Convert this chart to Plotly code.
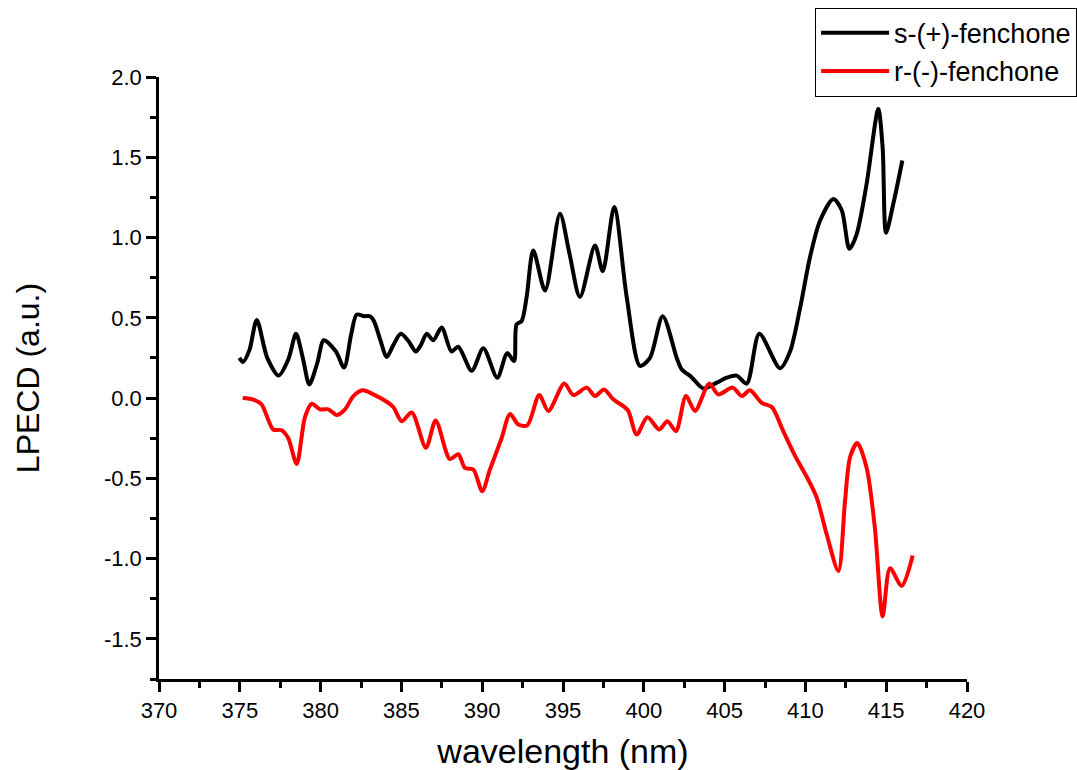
import plotly.graph_objects as go

# s-(+)-fenchone (black)
s_x = [374.97, 375.2, 375.6, 376.05, 376.7, 377.4, 378.0, 378.48, 378.9, 379.3, 379.8, 380.2, 380.95, 381.45,
       381.9, 382.23, 382.7, 383.06, 383.3, 383.7, 384.09, 384.5, 384.96, 385.4, 385.9, 386.2, 386.57, 386.97,
       387.49, 388.1, 388.52, 389.35, 390.07, 390.93, 391.55, 391.97, 392.13, 392.44, 392.75, 393.16, 393.89,
       394.81, 395.4, 396.05, 396.98, 397.46, 398.17, 398.94, 399.77, 400.38, 401.17, 402.04, 402.34, 402.96,
       403.68, 404.51, 405.13, 405.75, 406.37, 407.15, 408.43, 409.05, 409.67, 410.29, 410.91, 411.73, 412.25,
       412.72, 413.17, 413.79, 414.51, 414.78, 414.99, 415.44, 416.0]
s_y = [0.25, 0.225, 0.30, 0.486, 0.25, 0.14, 0.24, 0.40, 0.25, 0.085, 0.22, 0.36, 0.29, 0.19,
       0.40, 0.52, 0.51, 0.51, 0.48, 0.36, 0.256, 0.33, 0.40, 0.36, 0.29, 0.33, 0.40, 0.36,
       0.44, 0.29, 0.32, 0.17, 0.31, 0.127, 0.28, 0.23, 0.46, 0.48, 0.63, 0.92, 0.67,
       1.148, 0.90, 0.63, 0.95, 0.79, 1.19, 0.63, 0.20, 0.25, 0.51, 0.25, 0.18, 0.13,
       0.06, 0.096, 0.127, 0.14, 0.09, 0.40, 0.186, 0.29, 0.56, 0.88, 1.106, 1.24, 1.17,
       0.93, 1.02, 1.335, 1.80, 1.56, 1.03, 1.21, 1.48]

# r-(-)-fenchone (red)
r_x = [375.18, 375.84, 376.35, 377.07, 377.59, 378.0, 378.52, 379.03, 379.45, 379.96, 380.48, 381.0, 381.51,
       382.03, 382.6, 383.26, 384.09, 384.5, 385.02, 385.64, 386.52, 387.12, 388.0, 388.52, 388.93, 389.45,
       390.0, 390.48, 391.2, 391.72, 392.24, 392.79, 393.53, 394.09, 395.08, 395.64, 396.47, 396.98, 397.54,
       398.11, 398.73, 399.04, 399.56, 400.22, 400.96, 401.46, 401.99, 402.61, 403.17, 404.05, 404.61, 405.5,
       406.06, 406.57, 407.3, 407.92, 408.63, 409.36, 410.08, 410.7, 411.32, 412.04, 412.45, 412.76, 413.21,
       413.79, 414.3, 414.78, 415.24, 415.96, 416.64]
r_y = [0.0, -0.01, -0.04, -0.196, -0.20, -0.25, -0.41, -0.12, -0.035, -0.07, -0.07, -0.106, -0.07,
       0.0125, 0.048, 0.023, -0.023, -0.056, -0.144, -0.09, -0.31, -0.14, -0.38, -0.35, -0.435, -0.445,
       -0.58, -0.445, -0.25, -0.10, -0.165, -0.17, 0.019, -0.08, 0.09, 0.019, 0.065, 0.0125, 0.054,
       -0.008, -0.05, -0.08, -0.227, -0.12, -0.196, -0.144, -0.206, 0.0125, -0.08, 0.09, 0.023, 0.065,
       0.0125, 0.048, -0.03, -0.056, -0.206, -0.36, -0.49, -0.62, -0.85, -1.077, -0.644, -0.37, -0.28,
       -0.435, -0.81, -1.36, -1.06, -1.17, -0.98]

x_ticks = [370, 375, 380, 385, 390, 395, 400, 405, 410, 415, 420]
y_ticks = [2.0, 1.5, 1.0, 0.5, 0.0, -0.5, -1.0, -1.5]
y_ticktext = ["2.0", "1.5", "1.0", "0.5", "0.0", "-0.5", "-1.0", "-1.5"]

font = "Liberation Sans, Arial, sans-serif"

fig = go.Figure()
fig.add_trace(go.Scatter(x=s_x, y=s_y, mode="lines", name="s-(+)-fenchone",
                         line=dict(color="black", width=4, shape="spline", smoothing=0.8)))
fig.add_trace(go.Scatter(x=r_x, y=r_y, mode="lines", name="r-(-)-fenchone",
                         line=dict(color="#ff0000", width=4, shape="spline", smoothing=0.8)))

fig.update_layout(
    width=1077, height=770,
    margin=dict(l=159, r=110, t=77, b=91, autoexpand=False),
    paper_bgcolor="white", plot_bgcolor="white",
    font=dict(family=font, color="black"),
    showlegend=True,
    legend=dict(x=0.812, y=1.115, xanchor="left", yanchor="top",
                bordercolor="black", borderwidth=1, bgcolor="white",
                font=dict(size=27, family=font), tracegroupgap=0, itemwidth=68),
)
fig.update_xaxes(
    range=[370, 420], tickmode="array", tickvals=x_ticks, automargin=False,
    showline=True, linecolor="black", linewidth=2.5, mirror=False,
    ticks="outside", ticklen=10, tickwidth=2.5, tickcolor="black",
    minor=dict(dtick=2.5, tick0=370, ticks="outside", ticklen=6, tickwidth=2.5, tickcolor="black"),
    showgrid=False, zeroline=False,
    tickfont=dict(size=22, family=font),
    title=dict(text="wavelength (nm)", font=dict(size=34, family=font), standoff=30),
)
fig.update_yaxes(
    range=[-1.75, 2.0], tickmode="array", tickvals=y_ticks, ticktext=y_ticktext, automargin=False,
    showline=True, linecolor="black", linewidth=2.5, mirror=False,
    ticks="outside", ticklen=10, tickwidth=2.5, tickcolor="black",
    minor=dict(dtick=0.25, tick0=0, ticks="outside", ticklen=6, tickwidth=2.5, tickcolor="black"),
    showgrid=False, zeroline=False,
    tickfont=dict(size=22, family=font),
    title=dict(text="LPECD (a.u.)", font=dict(size=32, family=font), standoff=55),
)

fig.write_html("out.html")
